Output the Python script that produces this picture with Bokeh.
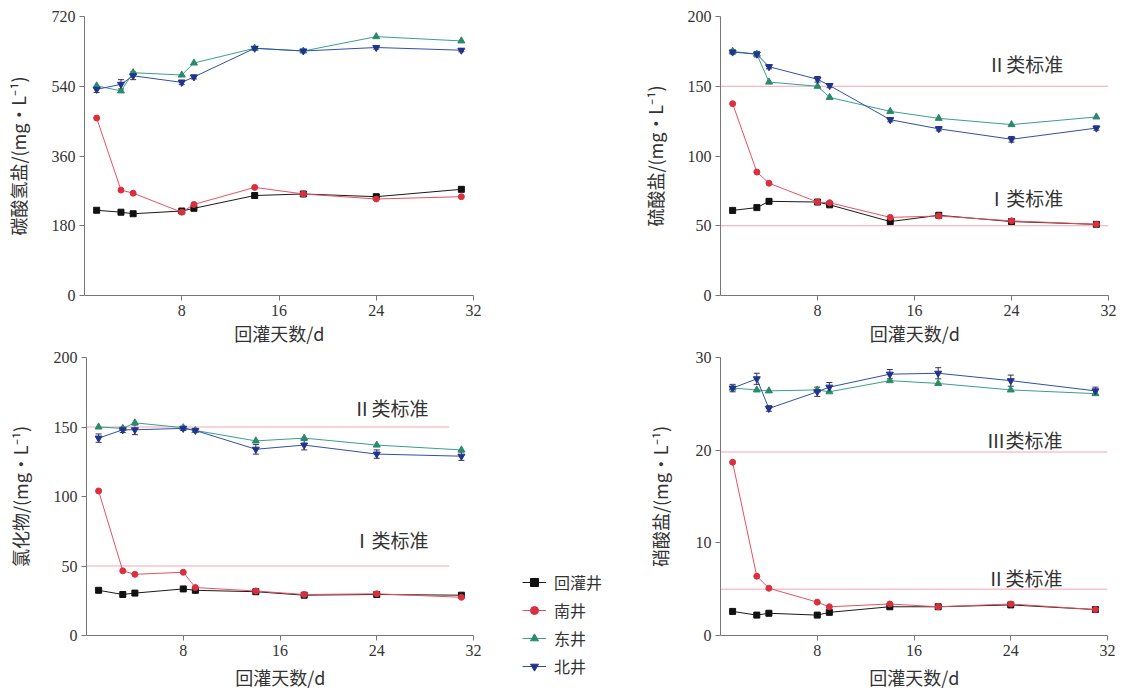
from bokeh.plotting import figure
from bokeh.layouts import column, row
from bokeh.models import Range1d, FixedTicker, Label, Legend, LegendItem, Whisker, ColumnDataSource, TeeHead
from bokeh.embed import file_html
from bokeh.resources import INLINE

days = [1, 3, 4, 8, 9, 14, 18, 24, 31]
x_ticks = [8, 16, 24, 32]
series_names = ["回灌井", "南井", "东井", "北井"]

# 碳酸氢盐
hco3_inj = [220, 215, 211, 218, 225, 258, 262, 255, 274]
hco3_south = [458, 272, 264, 215, 235, 279, 262, 249, 255]
hco3_east = [541, 528, 575, 569, 600, 638, 631, 668, 657]
hco3_north = [532, 545, 567, 550, 564, 638, 631, 640, 633]
hco3_north_err = [8, 12, 10, 6, 5, 4, 4, 4, 4]

# 硫酸盐
so4_inj = [61, 63, 67.5, 67, 65, 53, 57.5, 53, 51]
so4_south = [137.5, 88.5, 80.5, 67, 66.5, 56, 57, 53.5, 51]
so4_east = [175, 173, 153, 150, 142, 132, 127, 122.5, 128]
so4_north = [174.5, 173, 164, 155, 150.5, 126, 119.5, 112, 120]
so4_north_err = [1.5, 2, 1.5, 2, 1.5, 1.5, 1.5, 2, 1.5]

# 氯化物
cl_inj = [32.5, 29.5, 30.5, 33.5, 32.5, 31.5, 29, 29.5, 29]
cl_south = [104, 46.5, 44, 45.5, 34.5, 32, 29.5, 30, 27.5]
cl_east = [150, 149, 153, 149.5, 147.5, 140, 142, 137, 133.5]
cl_north = [142, 148, 148, 149, 147.5, 134, 137, 130.5, 129]
cl_north_err = [3, 2, 3.5, 1.5, 1.5, 3.5, 3.5, 3, 3]

# 硝酸盐
no3_inj = [2.6, 2.2, 2.4, 2.2, 2.5, 3.1, 3.1, 3.3, 2.8]
no3_south = [18.7, 6.4, 5.1, 3.6, 3.1, 3.4, 3.1, 3.4, 2.8]
no3_east = [26.7, 26.5, 26.4, 26.5, 26.3, 27.5, 27.2, 26.5, 26.1]
no3_north = [26.7, 27.7, 24.5, 26.3, 26.8, 28.2, 28.3, 27.5, 26.4]
no3_north_err = [0.4, 0.6, 0.3, 0.5, 0.5, 0.5, 0.6, 0.6, 0.4]

# standards
so4_std = [(150, "Ⅱ类标准"), (50, "Ⅰ类标准")]
cl_std = [(150, "Ⅱ类标准"), (50, "Ⅰ类标准")]
no3_std = [(19.8, "Ⅲ类标准"), (5, "Ⅱ类标准")]

LINE_COLORS = ["#1a1a1a", "#e8505e", "#3a9f8c", "#3050a8"]
MARK_COLORS = ["#111111", "#d9303f", "#2a8a6a", "#22338f"]
MARKERS = ["square", "circle", "triangle", "inverted_triangle"]
MSIZE = [6, 6, 7, 7]
STD_COLOR = "#f2a7b5"
CJK = "Noto Sans CJK SC"
NUM = "Liberation Serif"


def draw_series(p, series):
    rends = []
    for i, ys in enumerate(series):
        l = p.line(days, ys, line_color=LINE_COLORS[i], line_width=1)
        s = p.scatter(days, ys, marker=MARKERS[i], size=MSIZE[i],
                      fill_color=MARK_COLORS[i], line_color=MARK_COLORS[i])
        rends.append((l, s))
    return rends


def make_panel(w, h, ml, mr, mt, mb, yend, yticks, ylabel, series, ystand, xstand,
               err=None, std=None, std_xend=32, std_lab_y=None):
    p = figure(width=w, height=h, output_backend="svg", toolbar_location=None,
               x_range=Range1d(0, 32), y_range=Range1d(0, yend),
               min_border_left=ml, min_border_right=mr, min_border_top=mt, min_border_bottom=mb,
               outline_line_color=None, background_fill_color="white")
    p.xgrid.visible = False
    p.ygrid.visible = False
    p.xaxis.ticker = FixedTicker(ticks=x_ticks)
    p.yaxis.ticker = FixedTicker(ticks=yticks)
    for ax in (p.xaxis[0], p.yaxis[0]):
        ax.axis_line_color = "#777777"
        ax.major_tick_line_color = "#777777"
        ax.major_tick_out = 5
        ax.major_tick_in = 0
        ax.minor_tick_line_color = None
        ax.major_label_text_font = NUM
        ax.major_label_text_font_size = "16px"
        ax.major_label_text_color = "#333333"
        ax.major_label_standoff = 4
        ax.axis_label_text_font = CJK
        ax.axis_label_text_font_size = "18px"
        ax.axis_label_text_font_style = "normal"
        ax.axis_label_text_color = "#333333"
    p.xaxis.axis_label = "回灌天数/d"
    p.xaxis.axis_label_standoff = xstand
    p.yaxis.axis_label = ylabel
    p.yaxis.axis_label_standoff = ystand

    if std is not None:
        for (val, lab), ly in zip(std, std_lab_y):
            p.line([0, std_xend], [val, val], line_color=STD_COLOR, line_width=1)
            p.add_layout(Label(x=22, y=ly, text=lab, text_font=CJK, text_font_size="19px",
                               text_color="#333333", text_baseline="middle"))
    if err is not None:
        ys = series[3]
        src = ColumnDataSource(dict(x=days,
                                    lo=[v - e for v, e in zip(ys, err)],
                                    hi=[v + e for v, e in zip(ys, err)]))
        p.add_layout(Whisker(source=src, base="x", lower="lo", upper="hi",
                             line_color="#333355", line_width=1,
                             lower_head=TeeHead(size=6, line_color="#333355"),
                             upper_head=TeeHead(size=6, line_color="#333355")))
    draw_series(p, series)
    return p


p1 = make_panel(625, 348, 84, 152, 16, 52, 720, [0, 180, 360, 540, 720],
                "碳酸氢盐/(mg·L⁻¹)", [hco3_inj, hco3_south, hco3_east, hco3_north], 18, 1,
                err=hco3_north_err)
p2 = make_panel(499, 348, 95, 16, 16, 52, 200, [0, 50, 100, 150, 200],
                "硫酸盐/(mg·L⁻¹)", [so4_inj, so4_south, so4_east, so4_north], 17, 1,
                err=so4_north_err, std=so4_std, std_xend=32, std_lab_y=[166, 70])
p3 = make_panel(485, 344, 86, 12, 9, 56, 200, [0, 50, 100, 150, 200],
                "氯化物/(mg·L⁻¹)", [cl_inj, cl_south, cl_east, cl_north], 18, 5,
                err=cl_north_err, std=cl_std, std_xend=30, std_lab_y=[164, 69])
p4 = make_panel(499, 344, 95, 17, 9, 56, 30, [0, 10, 20, 30],
                "硝酸盐/(mg·L⁻¹)", [no3_inj, no3_south, no3_east, no3_north], 20, 5,
                err=no3_north_err, std=no3_std, std_xend=32, std_lab_y=[21.2, 6.3])

# legend-only panel (its series lie outside its visible range)
pleg = figure(width=140, height=344, output_backend="svg", toolbar_location=None,
              x_range=Range1d(-200, -199), y_range=Range1d(-200, -199),
              x_axis_location=None, y_axis_location=None,
              min_border=0, outline_line_color=None)
pleg.xgrid.visible = False
pleg.ygrid.visible = False
rl = draw_series(pleg, [cl_inj, cl_south, cl_east, cl_north])
items = [LegendItem(label=n, renderers=[l, s]) for n, (l, s) in zip(series_names, rl)]
legend = Legend(items=items, location=(37, 14), padding=0, spacing=4, margin=0,
                glyph_width=24, glyph_height=20, label_height=20, label_standoff=8,
                label_text_font=CJK, label_text_font_size="16px", label_text_color="#333333",
                border_line_color=None, background_fill_alpha=0)
pleg.add_layout(legend, "center")

layout = column(row(p1, p2), row(p3, column(pleg), p4))
open("out.html", "w").write(file_html(layout, INLINE))
